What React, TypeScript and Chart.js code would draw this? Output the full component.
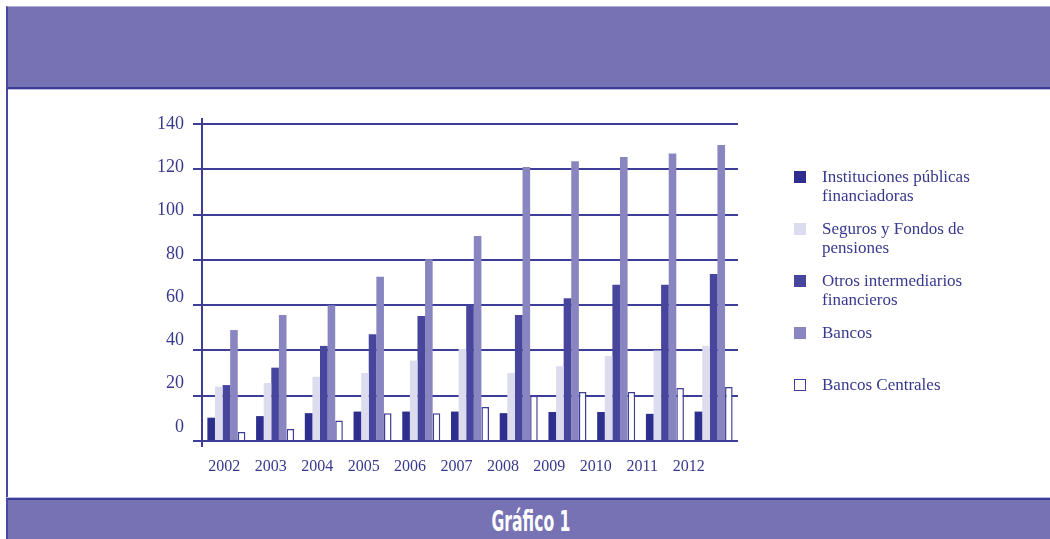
import React, { useEffect, useRef } from "react";
import { Chart, registerables } from "chart.js";

Chart.register(...registerables);

const years = ["2002", "2003", "2004", "2005", "2006", "2007", "2008", "2009", "2010", "2011", "2012"];
const seriesNames = [
  ["Instituciones públicas", "financiadoras"],
  ["Seguros y Fondos de", "pensiones"],
  ["Otros intermediarios", "financieros"],
  ["Bancos"],
  ["Bancos Centrales"],
];
const instituciones = [10.3, 11, 12.3, 13, 13, 13, 12.3, 12.8, 12.8, 12, 13];
const seguros = [24, 25.6, 28.4, 30, 35.5, 40.6, 30, 33, 37.5, 40, 42];
const otros = [24.7, 32.4, 42, 47.2, 55.2, 60, 55.6, 63, 69, 69, 73.7];
const bancos = [49, 55.6, 60, 72.5, 80.3, 90.5, 121, 123.6, 125.4, 127, 130.7];
const centrales = [4, 5.3, 9, 12.3, 12.3, 15, 20, 21.6, 21.6, 23.4, 23.8];
const yTicksMax = 140;
const yTicksStep = 20;

const NAVY = "#2e2e8e";
const LIGHT = "#dcdcee";
const OTROS = "#48469c";
const BANCOS = "#8985c0";
const AXIS = "#3e3e98";
const TEXT = "#38388e";
const BANNER = "#7672b3";

const fills = [NAVY, LIGHT, OTROS, BANCOS, "#ffffff"];
const values = [instituciones, seguros, otros, bancos, centrales];

const refPlugin = {
  id: "refLabels",
  afterDraw(chart: any) {
    const { ctx, chartArea } = chart;
    const x = chart.scales.x;
    const y = chart.scales.y;
    ctx.save();
    ctx.strokeStyle = AXIS;
    ctx.lineWidth = 2;
    ctx.beginPath();
    ctx.moveTo(chartArea.left, chartArea.top - 6);
    ctx.lineTo(chartArea.left, chartArea.bottom + 6);
    ctx.stroke();
    ctx.fillStyle = TEXT;
    ctx.font = '18px "Liberation Serif"';
    ctx.textAlign = "right";
    ctx.textBaseline = "middle";
    y.ticks.forEach((t: any) => {
      const py = y.getPixelForValue(t.value) - ((y.max - t.value) / y.max) * 14;
      ctx.fillText(String(t.value), chartArea.left - 18, py);
    });
    ctx.font = '16px "Liberation Serif"';
    ctx.textAlign = "center";
    years.forEach((lab, i) => {
      const px = x.getPixelForValue(i) - (2 + 2.3 * i);
      ctx.fillText(lab, px, chartArea.bottom + 26);
    });
    ctx.restore();
  },
};

export default function App() {
  const ref = useRef<HTMLCanvasElement | null>(null);
  useEffect(() => {
    if (!ref.current) return;
    const chart = new Chart(ref.current, {
      type: "bar",
      data: {
        labels: years,
        datasets: values.map((v, i) => ({
          label: seriesNames[i].join(" "),
          data: v,
          backgroundColor: fills[i],
          borderColor: i === 4 ? AXIS : fills[i],
          borderWidth: i === 4 ? 1.5 : 0,
          categoryPercentage: 0.78,
          barPercentage: 1,
        })),
      },
      options: {
        animation: false,
        responsive: true,
        maintainAspectRatio: false,
        layout: { padding: { left: 192, right: 312, top: 124, bottom: 98 } },
        plugins: { legend: { display: false }, tooltip: { enabled: false }, title: { display: false } },
        scales: {
          x: {
            grid: { display: false },
            border: { display: false },
            ticks: { display: false },
            afterFit: (s: any) => {
              s.height = 0;
              s.paddingRight = 0;
            },
          },
          y: {
            min: 0,
            max: yTicksMax,
            ticks: { display: false, stepSize: yTicksStep },
            grid: { color: AXIS, lineWidth: 2, drawTicks: true, tickLength: 9, tickColor: AXIS },
            border: { display: false },
            afterFit: (s: any) => {
              s.width = 10;
            },
          },
        },
      },
      plugins: [refPlugin],
    });
    return () => chart.destroy();
  }, []);

  return (
    <div style={{ position: "absolute", left: 0, top: 0, width: 1050, height: 539, background: "#fff", overflow: "hidden" }}>
      <div
        style={{
          position: "absolute",
          left: 6,
          top: 6,
          width: 1044,
          height: 83,
          boxSizing: "border-box",
          background: BANNER,
          borderLeft: "2px solid #4848a0",
          borderBottom: "2px solid #3c3c96",
          borderTop: "1px solid #aeacd6",
          boxShadow: "0 1px 0 #bdbbe0",
        }}
      />
      <div style={{ position: "absolute", left: 6, top: 89, width: 2, height: 410, background: "#4848a0" }} />
      <div
        style={{
          position: "absolute",
          left: 6,
          top: 498,
          width: 1044,
          height: 41,
          boxSizing: "border-box",
          background: BANNER,
          borderLeft: "2px solid #4848a0",
          borderTop: "2px solid #3c3c96",
          boxShadow: "0 -1px 0 #bdbbe0",
        }}
      >
        <span
          style={{
            position: "absolute",
            left: 523,
            top: 22,
            display: "inline-block",
            transform: "translate(-50%, -50%) scaleX(0.62)",
            color: "#fff",
            fontFamily: '"DejaVu Sans Condensed", "DejaVu Sans", sans-serif',
            fontWeight: "bold",
            fontSize: 28,
            whiteSpace: "nowrap",
            lineHeight: 1,
          }}
        >
          Gráfico 1
        </span>
      </div>
      <div style={{ position: "absolute", left: 0, top: 0, width: 1050, height: 539 }}>
        <canvas ref={ref} />
      </div>
      <div style={{ position: "absolute", left: 794, top: 167, fontFamily: '"Liberation Serif", serif', fontSize: 17, color: TEXT }}>
        {seriesNames.map((lines, i) => (
          <div key={i} style={{ position: "relative", height: 52 }}>
            <div
              style={{
                position: "absolute",
                left: 0,
                top: 4,
                width: 12,
                height: 12,
                boxSizing: "border-box",
                background: fills[i],
                border: i === 4 ? `1.5px solid ${AXIS}` : "none",
              }}
            />
            <div style={{ position: "absolute", left: 28, top: 0, lineHeight: "19px", whiteSpace: "nowrap" }}>
              {lines.map((l, j) => (
                <div key={j}>{l}</div>
              ))}
            </div>
          </div>
        ))}
      </div>
    </div>
  );
}
